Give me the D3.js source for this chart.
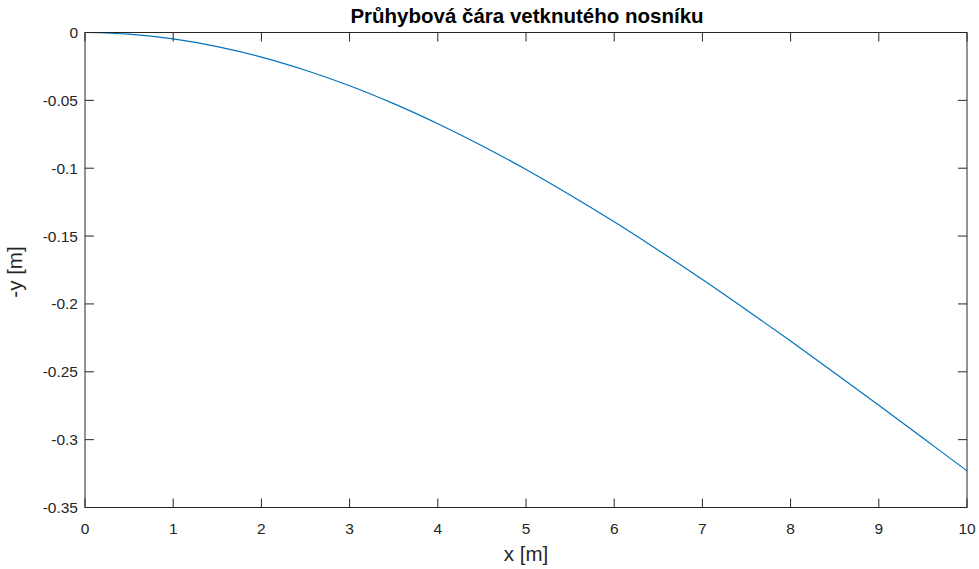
<!DOCTYPE html>
<html><head><meta charset="utf-8">
<script src="https://cdn.jsdelivr.net/npm/d3@7"></script>
<style>body{margin:0;background:#fff}svg{display:block}text{font-family:"Liberation Sans",Arial,Helvetica,sans-serif}</style>
</head><body><svg id="c" width="979" height="569"></svg>
<script>
const xValues = [0,0.5,1,1.5,2,2.5,3,3.5,4,4.5,5,5.5,6,6.5,7,7.5,8,8.5,9,9.5,10];
const yValues = [0,-0.0012,-0.0047,-0.0104,-0.0181,-0.0278,-0.0392,-0.0524,-0.0672,-0.0834,-0.1009,-0.1197,-0.1395,-0.1604,-0.1820,-0.2044,-0.2274,-0.2509,-0.2747,-0.2988,-0.3230];
const xTicks = [0,1,2,3,4,5,6,7,8,9,10];
const yTicks = [0,-0.05,-0.1,-0.15,-0.2,-0.25,-0.3,-0.35];
const yTickLabels = ["0","-0.05","-0.1","-0.15","-0.2","-0.25","-0.3","-0.35"];
const titleText = "Průhybová čára vetknutého nosníku";
const xLabel = "x [m]", yLabel = "-y [m]";

const L=85,R=967,T=32.5,B=507.5;
const svg=d3.select("#c");
const x=d3.scaleLinear().domain([0,10]).range([L,R]);
const y=d3.scaleLinear().domain([-0.35,0]).range([B,T]);
const ac="#262626", tl=9;

svg.append("rect").attr("x",L).attr("y",T).attr("width",R-L).attr("height",B-T).attr("fill","#fff");

const line=d3.line().x((d,i)=>x(xValues[i])).y(d=>y(d)).curve(d3.curveCatmullRom);
svg.append("path").datum(yValues).attr("d",line).attr("fill","none").attr("stroke","#0072BD").attr("stroke-width",1.2);

const g=svg.append("g").attr("stroke",ac).attr("stroke-width",1).attr("fill","none");
g.append("rect").attr("x",L).attr("y",T).attr("width",R-L).attr("height",B-T);
xTicks.forEach(t=>{
  g.append("line").attr("x1",x(t)).attr("x2",x(t)).attr("y1",B).attr("y2",B-tl);
  g.append("line").attr("x1",x(t)).attr("x2",x(t)).attr("y1",T).attr("y2",T+tl);
});
yTicks.forEach(t=>{
  g.append("line").attr("x1",L).attr("x2",L+tl).attr("y1",y(t)).attr("y2",y(t));
  g.append("line").attr("x1",R).attr("x2",R-tl).attr("y1",y(t)).attr("y2",y(t));
});
svg.append("g").selectAll("text").data(xTicks).join("text")
  .attr("x",d=>x(d)).attr("y",B+26.5).attr("text-anchor","middle").attr("font-size",15.5).attr("fill",ac).text(d=>d);
svg.append("g").selectAll("text").data(yTicks).join("text")
  .attr("x",L-7).attr("y",d=>y(d)+5.5).attr("text-anchor","end").attr("font-size",15.5).attr("fill",ac).text((d,i)=>yTickLabels[i]);
svg.append("text").attr("x",527).attr("y",23).attr("text-anchor","middle").attr("font-size",20.5).attr("font-weight","bold").attr("fill","#000").text(titleText);
svg.append("text").attr("x",526).attr("y",561).attr("text-anchor","middle").attr("font-size",20.5).attr("fill",ac).text(xLabel);
svg.append("text").attr("transform",`translate(22,272) rotate(-90)`).attr("text-anchor","middle").attr("font-size",20.5).attr("fill",ac).text(yLabel);
</script></body></html>
